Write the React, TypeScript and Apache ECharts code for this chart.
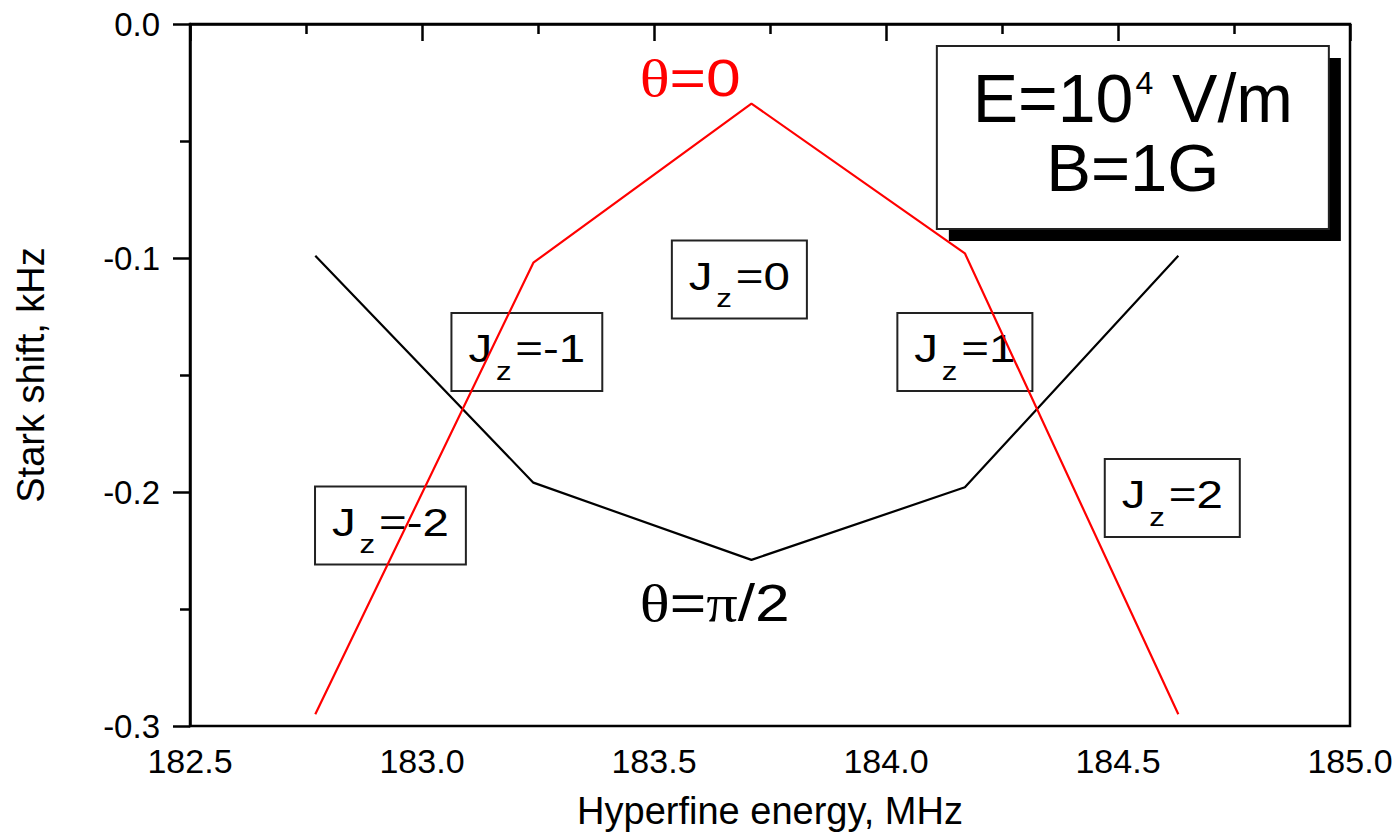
import React, { useEffect, useRef } from "react";
import * as echarts from "echarts";

// ---- data ----
const energyMHz = [182.77, 183.24, 183.71, 184.17, 184.63];
const starkTheta0 = [-0.295, -0.102, -0.034, -0.098, -0.295];
const starkThetaPi2 = [-0.099, -0.196, -0.229, -0.198, -0.099];

const jzValues = ["0", "-1", "-2", "1", "2"];
const jzAnchorX = [183.684, 183.226, 182.932, 184.17, 184.617];
const jzAnchorY = [-0.1092, -0.1402, -0.2143, -0.1402, -0.2026];

const xName = "Hyperfine energy, MHz";
const yName = "Stark shift, kHz";

const SANS = '"Liberation Sans", Arial, sans-serif';
const SERIF = '"Liberation Serif", "Times New Roman", serif';

let measureCtx: CanvasRenderingContext2D | null = null;
function measure(text: string, size: number, family: string): number {
  if (!measureCtx) measureCtx = document.createElement("canvas").getContext("2d");
  if (!measureCtx) return text.length * size * 0.55;
  measureCtx.font = `${size}px ${family}`;
  return measureCtx.measureText(text).width;
}

type Part = { text: string; size: number; family?: string; dy?: number; gap?: number };

function row(parts: Part[], color: string) {
  const widths = parts.map((p) => measure(p.text, p.size, p.family || SANS) + (p.gap || 0));
  const total = widths.reduce((a, b) => a + b, 0);
  let x = -total / 2;
  const children = parts.map((p, i) => {
    const el = {
      type: "text",
      x,
      y: p.dy || 0,
      style: {
        text: p.text,
        fontSize: p.size,
        fontFamily: p.family || SANS,
        fill: color,
        align: "left",
        verticalAlign: "middle",
      },
    };
    x += widths[i];
    return el;
  });
  return { children, total };
}

function buildGraphics(toPx: (x: number, y: number) => number[]) {
  const out: any[] = [];
  const JS = 1.25;
  jzValues.forEach((v, i) => {
    const [px, py] = toPx(jzAnchorX[i], jzAnchorY[i]);
    const r = row(
      [
        { text: "J", size: 38, dy: -3, gap: 3 },
        { text: "z", size: 25, dy: 19, gap: 3 },
        { text: "=" + v, size: 38, dy: -3 },
      ],
      "#000"
    );
    const w = r.total * JS + 34;
    const h = 78;
    out.push({
      type: "group",
      x: px,
      y: py,
      z: 100,
      children: [
        {
          type: "rect",
          shape: { x: -w / 2, y: -h / 2, width: w, height: h },
          style: { fill: "#fff", stroke: "#222", lineWidth: 2 },
        },
        { type: "group", scaleX: JS, children: r.children },
      ],
    });
  });

  // theta = 0 label
  {
    const [px, py] = toPx(183.578, -0.0231);
    const r = row(
      [
        { text: "θ", size: 52, family: SERIF },
        { text: "=0", size: 52 },
      ],
      "#ff0000"
    );
    out.push({ type: "group", x: px, y: py, z: 100, scaleX: 1.2, children: r.children });
  }
  // theta = pi/2 label
  {
    const [px, py] = toPx(183.631, -0.2474);
    const r = row(
      [
        { text: "θ", size: 52, family: SERIF },
        { text: "=", size: 52 },
        { text: "π", size: 52, family: SERIF },
        { text: "/2", size: 52 },
      ],
      "#000"
    );
    out.push({ type: "group", x: px, y: py, z: 100, scaleX: 1.2, children: r.children });
  }

  // E / B box
  {
    const [px, py] = toPx(184.532, -0.0485);
    const w = 392;
    const h = 183;
    const e = row(
      [
        { text: "E=10", size: 68, dy: -39.5, gap: 2 },
        { text: "4", size: 32, dy: -54 },
        { text: " V/m", size: 68, dy: -39.5 },
      ],
      "#000"
    );
    const b = row([{ text: "B=1G", size: 67, dy: 30 }], "#000");
    out.push({
      type: "group",
      x: px,
      y: py,
      z: 100,
      children: [
        {
          type: "rect",
          shape: { x: -w / 2 + 12, y: -h / 2 + 12, width: w, height: h },
          style: { fill: "#000" },
        },
        {
          type: "rect",
          shape: { x: -w / 2, y: -h / 2, width: w, height: h },
          style: { fill: "#fff", stroke: "#222", lineWidth: 2 },
        },
        ...e.children,
        ...b.children,
      ],
    });
  }
  return out;
}

export default function App() {
  const ref = useRef<HTMLDivElement>(null);
  useEffect(() => {
    if (!ref.current) return;
    const chart = echarts.init(ref.current, null, { renderer: "svg" });
    const fmt = (v: number) => (Math.abs(v) < 1e-9 ? "0.0" : v.toFixed(1));
    const axisCommon = {
      axisLine: { show: true, lineStyle: { color: "#000", width: 2.5 } },
      axisTick: { show: true, length: 17, lineStyle: { color: "#000", width: 2.5 } },
      minorTick: { show: true, splitNumber: 2, length: 10, lineStyle: { color: "#000", width: 2.5 } },
      splitLine: { show: false },
      minorSplitLine: { show: false },
    };
    chart.setOption({
      animation: false,
      backgroundColor: "#fff",
      grid: {
        left: 190,
        right: 50,
        top: 24,
        bottom: 108,
        show: true,
        borderColor: "#000",
        borderWidth: 2.5,
        backgroundColor: "transparent",
      },
      xAxis: {
        type: "value",
        min: 182.5,
        max: 185,
        interval: 0.5,
        ...axisCommon,
        axisLabel: { fontSize: 34, color: "#000", margin: 18, fontFamily: SANS, formatter: fmt },
        name: xName,
        nameLocation: "middle",
        nameGap: 66,
        nameTextStyle: { fontSize: 38, color: "#000", fontFamily: SANS },
      },
      yAxis: {
        type: "value",
        min: -0.3,
        max: 0,
        interval: 0.1,
        ...axisCommon,
        axisLabel: { fontSize: 33, color: "#000", margin: 30, fontFamily: SANS, formatter: fmt },
        name: yName,
        nameLocation: "middle",
        nameGap: 140,
        nameTextStyle: { fontSize: 38, color: "#000", fontFamily: SANS },
      },
      series: [
        {
          name: "θ=0",
          type: "line",
          data: energyMHz.map((x, i) => [x, starkTheta0[i]]),
          showSymbol: false,
          lineStyle: { color: "#ff0000", width: 2.2 },
          z: 3,
        },
        {
          name: "θ=π/2",
          type: "line",
          data: energyMHz.map((x, i) => [x, starkThetaPi2[i]]),
          showSymbol: false,
          lineStyle: { color: "#000", width: 2.2 },
          z: 2,
        },
      ],
    });
    const toPx = (x: number, y: number) =>
      chart.convertToPixel({ gridIndex: 0 }, [x, y]) as number[];
    chart.setOption({ graphic: buildGraphics(toPx) });
    return () => chart.dispose();
  }, []);
  return (
    <div
      ref={ref}
      style={{ position: "fixed", left: 0, top: 0, width: 1400, height: 835, background: "#fff" }}
    />
  );
}
